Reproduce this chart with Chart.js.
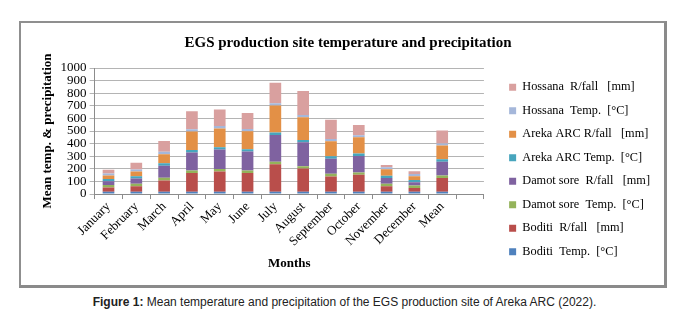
<!DOCTYPE html>
<html>
<head>
<meta charset="utf-8">
<script src="https://cdn.jsdelivr.net/npm/chart.js@4.4.1/dist/chart.umd.min.js"></script>
<style>
  body { margin: 0; background: #fff; width: 689px; height: 325px; position: relative; overflow: hidden; }
  #frame {
    position: absolute; left: 19px; top: 21px; width: 643px; height: 262px;
    border-top: 2px solid #8f8f8f; border-left: 2px solid #8f8f8f;
    border-right: 3px solid #8a8a8a; border-bottom: 3px solid #8a8a8a;
  }
  #caption {
    position: absolute; left: 0; top: 295px; width: 689px; text-align: center;
    font-family: 'Liberation Sans', Arial, sans-serif; font-size: 12px; color: #222;
  }
</style>
</head>
<body>
<div id="frame"><canvas id="grafico" width="643" height="262"></canvas></div>
<div id="caption"><b>Figure 1:</b> Mean temperature and precipitation of the EGS production site of Areka ARC (2022).</div>
<script>
let ctx = document.getElementById('grafico')

// categorias (a última fica vazia, como na planilha)
const labels = ['January','February','March','April','May','June','July','August','September','October','November','December','Mean','']

// valores por série
const boditiTemp   = [19, 19, 19, 19, 19, 19, 19, 19, 19, 19, 19, 19, 19]
const boditiRain   = [33, 43, 89, 148, 159, 148, 218, 183, 121, 135, 43, 30, 108]
const damotTemp    = [19, 20, 21, 19, 21, 19, 19, 19, 21, 18, 19, 18, 21]
const damotRain    = [30, 42, 95, 143, 154, 151, 213, 189, 119, 129, 46, 27, 108]
const arekaTemp    = [19, 18, 20, 21, 19, 19, 19, 19, 20, 20, 18, 17, 21]
const arekaRain    = [28, 37, 72, 146, 148, 143, 215, 180, 118, 130, 51, 30, 108]
const hossanaTemp  = [16, 16, 20, 18, 19, 18, 17, 19, 18, 16, 16, 18, 17]
const hossanaRain  = [28, 54, 85, 143, 131, 127, 162, 189, 154, 81, 19, 22, 103]

const serif = "'Liberation Serif', 'Times New Roman', serif"

Chart.defaults.font.family = serif
Chart.defaults.color = '#000'

const data = {
  labels,
  datasets: [
    { label: 'Boditi  Temp.  [°C]',       data: boditiTemp,  backgroundColor: '#4f81bd' },
    { label: 'Boditi  R/fall   [mm]',     data: boditiRain,  backgroundColor: '#b94e4b' },
    { label: 'Damot sore  Temp.  [°C]',   data: damotTemp,   backgroundColor: '#94b35a' },
    { label: 'Damot sore  R/fall   [mm]', data: damotRain,   backgroundColor: '#7f62a0' },
    { label: 'Areka ARC Temp.  [°C]',     data: arekaTemp,   backgroundColor: '#47a5bd' },
    { label: 'Areka ARC R/fall   [mm]',   data: arekaRain,   backgroundColor: '#e39046' },
    { label: 'Hossana  Temp.  [°C]',      data: hossanaTemp, backgroundColor: '#a5b7da' },
    { label: 'Hossana  R/fall   [mm]',    data: hossanaRain, backgroundColor: '#d9a09f' }
  ]
}

const config = {
  type: 'bar',
  data,
  options: {
    responsive: false,
    animation: false,
    barPercentage: 0.42,
    categoryPercentage: 1,
    layout: { padding: { top: 4, right: 4, left: 15, bottom: 10 } },
    scales: {
      x: {
        stacked: true,
        grid: { drawOnChartArea: false, drawTicks: true, tickLength: 5, color: '#8c8c8c' },
        border: { color: '#8c8c8c' },
        ticks: { minRotation: 45, maxRotation: 45, autoSkip: false, font: { size: 13 }, padding: 0 },
        title: { display: true, text: 'Months', font: { size: 13, weight: 'bold' }, padding: { top: 6 } }
      },
      y: {
        stacked: true,
        min: 0,
        max: 1000,
        ticks: { stepSize: 100, autoSkip: false, font: { size: 13 }, padding: 3, callback: v => v },
        grid: { color: '#b4b4b4', tickLength: 5 },
        border: { color: '#8c8c8c' },
        title: { display: true, text: 'Mean temp. & precipitation', font: { size: 13, weight: 'bold' }, padding: { bottom: 2 } }
      },
      // espaço vazio entre o gráfico e a legenda
      gap: {
        position: 'right',
        display: true,
        ticks: { display: false },
        grid: { display: false },
        border: { display: false },
        afterFit: s => { s.width = 14 }
      }
    },
    plugins: {
      title: {
        display: true,
        text: 'EGS production site temperature and precipitation',
        font: { size: 15, weight: 'bold' },
        padding: { top: 7, bottom: 16 }
      },
      legend: {
        position: 'right',
        align: 'center',
        reverse: true,
        maxWidth: 220,
        // título vazio só para empurrar os itens para baixo
        title: { display: true, text: ' ', font: { size: 1 }, padding: { top: 35.8, bottom: 0 } },
        labels: { boxWidth: 7, boxHeight: 7, padding: 11.2, font: { size: 12.3 } }
      },
      tooltip: { enabled: false }
    }
  }
}

const graph = new Chart(ctx, config)
</script>
</body>
</html>
